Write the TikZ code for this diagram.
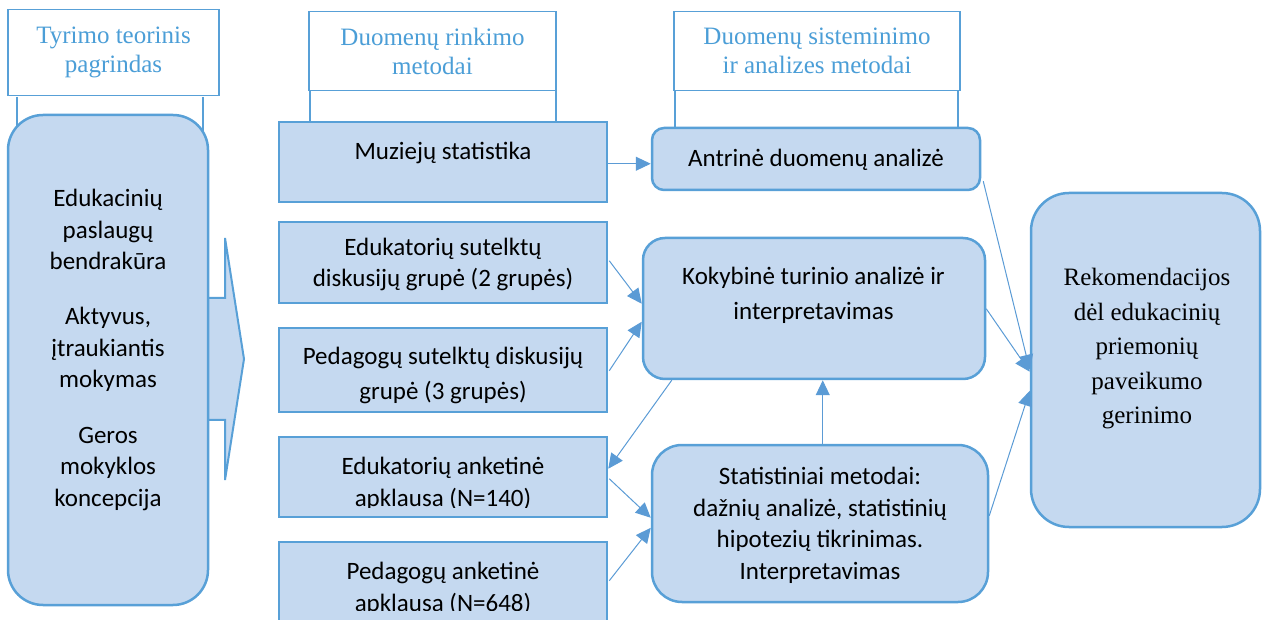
\documentclass[tikz,border=0pt]{standalone}
\usepackage{fontspec}
\setmainfont{Carlito}
\newfontfamily\seriffam{Liberation Serif}
\usetikzlibrary{arrows.meta,calc}
\definecolor{boxfill}{RGB}{197,217,240}
\definecolor{boxline}{RGB}{88,160,215}
\definecolor{arrline}{RGB}{91,155,213}
\definecolor{headtext}{RGB}{75,158,215}
\begin{document}
\begin{tikzpicture}[x=1pt,y=-1pt,
  headbox/.style={draw=boxline, line width=1.4pt, fill=white, inner sep=0pt,
    font=\seriffam\fontsize{25}{29}\selectfont, text=headtext, align=center},
  colbox/.style={draw=boxline, line width=2.5pt, fill=boxfill, inner sep=0pt},
  rbox/.style={draw=boxline, line width=2.5pt, fill=boxfill, inner sep=0pt, rounded corners=#1},
  conn/.style={draw=arrline, line width=1pt, -{Triangle[length=15pt,width=14pt]}},
  txt/.style={font=\fontsize{25}{31.5}\selectfont, align=center, inner sep=0pt},
  hline/.style={draw=boxline, line width=1.2pt},
]
\useasboundingbox (0,0) rectangle (1262,620);

% header connector lines (behind boxes)
\draw[hline] (17,97) -- (17,140);
\draw[hline] (203,97) -- (203,140);
\draw[hline] (310,90) -- (310,124);
\draw[hline] (556,90) -- (556,124);
\draw[hline] (675,90) -- (675,130);
\draw[hline] (958,90) -- (958,130);

% headers
\node[headbox, minimum width=211, minimum height=86] (h1) at (113.5,52.5) {Tyrimo teorinis\\pagrindas};
\node[headbox, minimum width=247, minimum height=79] (h2) at (432.5,51) {Duomenų rinkimo\\metodai};
\node[headbox, minimum width=286, minimum height=79] (h3) at (817,51) {Duomenų sisteminimo\\ir analizes metodai};

% big arrow
\filldraw[fill=boxfill, draw=boxline, line width=2pt, line join=miter]
  (208,298) -- (225,298) -- (225,238) -- (244,359) -- (225,480) -- (225,420) -- (208,420);

% left box
\node[rbox=35, minimum width=200, minimum height=490] (left) at (108,360) {};
\node[txt] (l1) at (108,229.5) {Edukacinių\\paslaugų\\bendrakūra};
\node[txt] (l2) at (108,349.5) {Aktyvus,\\įtraukiantis\\mokymas};
\node[txt] (l3) at (108,469) {Geros\\mokyklos\\koncepcija};

% collection boxes
\node[colbox, minimum width=328, minimum height=80] (c1) at (443,162) {};
\node[colbox, minimum width=328, minimum height=81] (c2) at (443,262.5) {};
\node[colbox, minimum width=328, minimum height=84] (c3) at (443,370) {};
\node[colbox, minimum width=328, minimum height=80] (c4) at (443,477) {};
\node[colbox, minimum width=328, minimum height=86] (c5) at (443,585) {};

\node[txt] (t1) at (443,153) {Muziejų statistika};
\node[txt] (t2) at (443,264.5) {Edukatorių sutelktų\\diskusijų grupė (2 grupės)};
\node[txt, font=\fontsize{25}{35}\selectfont] (t3) at (443,375.5) {Pedagogų sutelktų diskusijų\\grupė (3 grupės)};
\begin{scope}
  \clip (c4.north west) rectangle ($(c4.south east)+(0,-11)$);
  \node[txt] (t4) at (443,484) {Edukatorių anketinė\\apklausa (N=140)};
\end{scope}
\begin{scope}
  \clip (c5.north west) rectangle (607,610);
  \node[txt] (t5) at (443,589) {Pedagogų anketinė\\apklausa (N=648)};
\end{scope}

% analysis boxes
\node[rbox=12, minimum width=328, minimum height=62] (antr) at (816,159) {};
\node[txt] (ta) at (816,160) {Antrinė duomenų analizė};
\node[rbox=22, minimum width=342, minimum height=141] (kok) at (814,308.5) {};
\node[txt, font=\fontsize{25}{34.5}\selectfont] (tk) at (813.5,295.5) {Kokybinė turinio analizė ir\\interpretavimas};
\node[rbox=30, minimum width=336, minimum height=157] (stat) at (820,523.5) {};
\node[txt] (ts) at (820,525.5) {Statistiniai metodai:\\dažnių analizė, statistinių\\hipotezių tikrinimas.\\Interpretavimas};

% recommendations
\node[rbox=38, minimum width=229, minimum height=334] (rek) at (1145.5,360) {};
\node[txt, font=\seriffam\fontsize{25}{34.5}\selectfont] (tr) at (1147,349) {Rekomendacijos\\dėl edukacinių\\priemonių\\paveikumo\\gerinimo};

% connectors
\draw[conn] ($(c1.north east)+(0,43)$) -- ($(antr.north west)+(0,37)$);
\draw[conn] ($(c2.north east)+(1,40)$) -- ($(kok.north west)+(0,67)$);
\draw[conn] ($(c3.north east)+(1,44)$) -- ($(kok.north west)+(0,85)$);
\draw[conn] ($(kok.south west)+(30,0)$) -- ($(c4.north east)+(0,33)$);
\draw[conn] ($(c4.north east)+(1,43)$) -- ($(stat.north west)+(0,74)$);
\draw[conn] ($(c5.north east)+(1,40)$) -- ($(stat.north west)+(0,84)$);
\draw[conn] ($(stat.north west)+(172,0)$) -- ($(kok.south west)+(181,0)$);
\draw[conn] ($(antr.south east)+(2,-10)$) -- ($(rek.north west)+(0,178)$);
\draw[conn] ($(kok.north east)+(0,72)$) -- ($(rek.north west)+(0,180)$);
\draw[conn] ($(stat.north east)+(0,72)$) -- ($(rek.north west)+(0,199)$);
\end{tikzpicture}
\end{document}
